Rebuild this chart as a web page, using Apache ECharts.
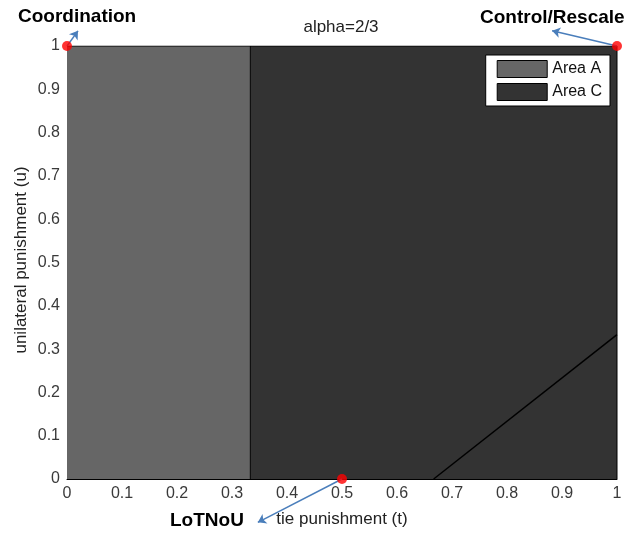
<!DOCTYPE html>
<html>
<head>
<meta charset="utf-8">
<script src="https://cdn.jsdelivr.net/npm/echarts@6/dist/echarts.min.js"></script>
<style>
  html, body { margin: 0; padding: 0; background: #fff; }
  #chart { width: 626px; height: 537px; }
</style>
</head>
<body>
<div id="chart"></div>
<script>
// Region boundaries in the (t, u) plane
const areaA = [[0, 1], [1 / 3, 1]];          // t in [0, 1/3]
const areaC = [[1 / 3, 1], [1, 1]];          // t in [1/3, 1]
const divider = [[1 / 3, 0], [1 / 3, 1]];    // vertical border between regions
const boundary = [[2 / 3, 0], [1, 1 / 3]];   // u = t - 2/3
// Marked corner/edge points
const marks = [[0, 1], [1, 1], [0.5, 0]];
// Arrows from each marked point toward its label
const arrows = [
  [[0, 1], [0.02, 1.035]],
  [[1, 1], [0.882, 1.035]],
  [[0.5, 0], [0.347, -0.1]]
];
const xTicks = [0, 0.1, 0.2, 0.3, 0.4, 0.5, 0.6, 0.7, 0.8, 0.9, 1];
const yTicks = [0, 0.1, 0.2, 0.3, 0.4, 0.5, 0.6, 0.7, 0.8, 0.9, 1];

const font = 'Liberation Sans, Arial, sans-serif';
const chart = echarts.init(document.getElementById('chart'));

const tickFmt = list => v =>
  list.find(t => Math.abs(t - v) < 1e-9) !== undefined ? String(+v.toFixed(1)) : '';

chart.setOption({
  animation: false,
  legend: {
    right: 16, top: 55,
    orient: 'vertical',
    backgroundColor: '#fff',
    borderColor: '#000', borderWidth: 1,
    padding: [5, 8, 5, 11],
    itemWidth: 50, itemHeight: 17, itemGap: 5,
    textStyle: { fontFamily: font, fontSize: 16, color: '#111' },
    data: [
      { name: 'Area A', icon: 'rect', itemStyle: { color: '#666666', borderColor: '#000', borderWidth: 1 } },
      { name: 'Area C', icon: 'rect', itemStyle: { color: '#333333', borderColor: '#000', borderWidth: 1 } }
    ]
  },
  grid: { left: 67, right: 9, top: 46, bottom: 58, containLabel: false },
  xAxis: {
    type: 'value', min: 0, max: 1, interval: 0.1,
    name: 'tie punishment (t)', nameLocation: 'middle', nameGap: 32,
    nameTextStyle: { fontFamily: font, fontSize: 17, color: '#222' },
    axisLine: { show: true, lineStyle: { color: '#000' } },
    axisTick: { show: false },
    splitLine: { show: false },
    axisLabel: { fontFamily: font, fontSize: 16, color: '#3a3a3a', margin: 7, formatter: tickFmt(xTicks) }
  },
  yAxis: {
    type: 'value', min: 0, max: 1, interval: 0.1,
    axisLine: { show: true, lineStyle: { color: '#000' } },
    axisTick: { show: false },
    splitLine: { show: false },
    axisLabel: { fontFamily: font, fontSize: 16, color: '#3a3a3a', margin: 7, formatter: tickFmt(yTicks) }
  },
  series: [
    {
      name: 'Area A', type: 'line', data: areaA, symbol: 'none',
      lineStyle: { width: 0 }, areaStyle: { color: '#666666', opacity: 1 },
      itemStyle: { color: '#666666' }, z: 1
    },
    {
      name: 'Area C', type: 'line', data: areaC, symbol: 'none',
      lineStyle: { width: 0 }, areaStyle: { color: '#333333', opacity: 1 },
      itemStyle: { color: '#333333' }, z: 1
    },
    {
      type: 'line', data: divider, symbol: 'none',
      lineStyle: { color: '#000', width: 1 }, z: 2
    },
    {
      type: 'line', data: boundary, symbol: 'none',
      lineStyle: { color: '#000', width: 1.5 }, z: 2
    },
    {
      // top edge of the axes box
      type: 'line', data: [[0, 1], [1, 1]], symbol: 'none',
      lineStyle: { color: '#000', width: 1 }, z: 3
    },
    {
      // right edge of the axes box
      type: 'line', data: [[1, 0], [1, 1]], symbol: 'none',
      lineStyle: { color: '#000', width: 1 }, z: 3
    },
    {
      type: 'lines', coordinateSystem: 'cartesian2d', clip: false,
      data: arrows.map(c => ({ coords: c })),
      symbol: ['none', 'arrow'], symbolSize: 8,
      lineStyle: { color: '#4a7ebb', width: 1.5, opacity: 1 }, z: 5
    },
    {
      type: 'scatter', data: marks, symbolSize: 10, clip: false,
      itemStyle: { color: '#ff0000' }, z: 6
    }
  ],
  graphic: [
    { type: 'text', x: 341, y: 27, style: { text: 'alpha=2/3', font: '17px ' + font, fill: '#222', textAlign: 'center', textVerticalAlign: 'middle' } },
    {
      // y-axis title, placed close to the tick labels
      type: 'text', x: 21, y: 260, rotation: Math.PI / 2,
      style: { text: 'unilateral punishment (u)', font: '17px ' + font, fill: '#222', textAlign: 'center', textVerticalAlign: 'middle' }
    },
    { type: 'text', left: 18, top: 7, style: { text: 'Coordination', font: 'bold 19px ' + font, fill: '#000' } },
    { type: 'text', left: 480, top: 8, style: { text: 'Control/Rescale', font: 'bold 19px ' + font, fill: '#000' } },
    { type: 'text', left: 170, top: 511, style: { text: 'LoTNoU', font: 'bold 19px ' + font, fill: '#000' } }
  ]
});
</script>
</body>
</html>
